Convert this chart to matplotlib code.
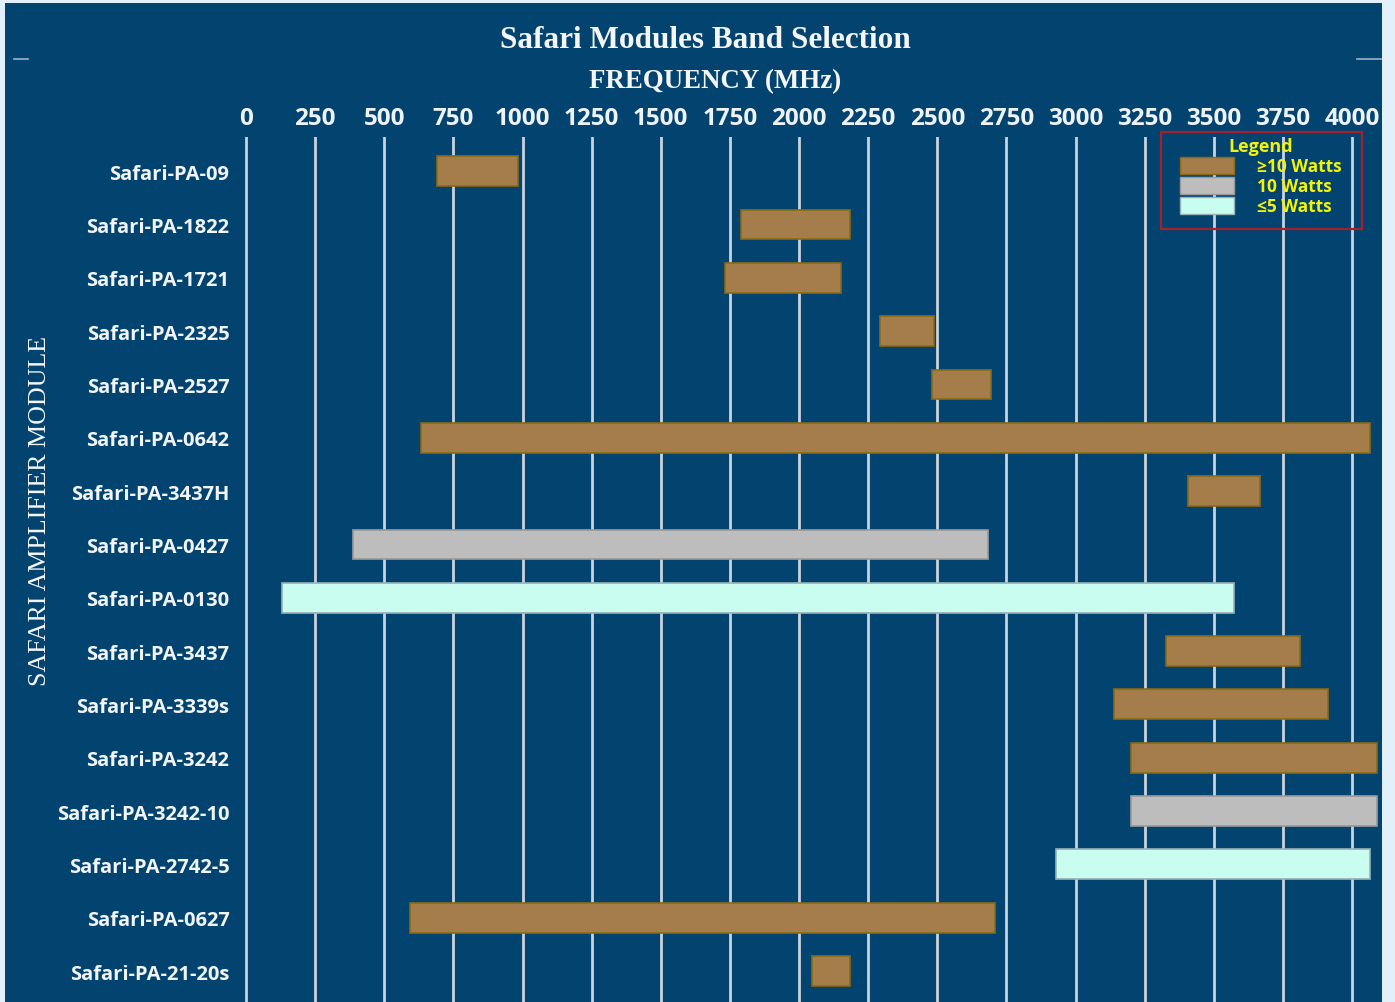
import matplotlib
matplotlib.use("Agg")
import matplotlib.pyplot as plt
from matplotlib.patches import Patch, Rectangle
from matplotlib.lines import Line2D

modules = ["Safari-PA-09", "Safari-PA-1822", "Safari-PA-1721", "Safari-PA-2325",
           "Safari-PA-2527", "Safari-PA-0642", "Safari-PA-3437H", "Safari-PA-0427",
           "Safari-PA-0130", "Safari-PA-3437", "Safari-PA-3339s", "Safari-PA-3242",
           "Safari-PA-3242-10", "Safari-PA-2742-5", "Safari-PA-0627", "Safari-PA-21-20s"]
start_mhz = [690, 1790, 1732, 2293, 2481, 633, 3407, 387, 130, 3327, 3139, 3201, 3201, 2929, 593, 2047]
stop_mhz = [985, 2184, 2152, 2488, 2694, 4065, 3667, 2684, 3573, 3812, 3913, 4090, 4090, 4065, 2709, 2184]
power_class = [0, 0, 0, 0, 0, 0, 0, 1, 2, 0, 0, 0, 1, 2, 0, 0]
class_labels = ["\u226510 Watts", "10 Watts", "\u22645 Watts"]
xticks = list(range(0, 4001, 250))

fill_colors = ["#a47d4a", "#bdbdbd", "#c8fdf0"]
edge_colors = ["#8a6a14", "#9a9a9a", "#9ab0b8"]

DARK = "#03436f"
W, H = 1395, 1003
fig = plt.figure(figsize=(W / 100, H / 100), dpi=100, facecolor="#e2f0fa")
fig.patches.append(Rectangle((5 / W, 0), (1382 - 5) / W, (H - 4) / H,
                             transform=fig.transFigure, facecolor=DARK,
                             edgecolor="none", zorder=-10))

# axes: 0 MHz at x=246 px, 4000 at 1352 px
ppm = (1352 - 246) / 4000.0
x0, x1 = -30, (1382 - 246) / ppm
left_px = 246 + x0 * ppm
top_px, bot_px = 138, 1003
ax = fig.add_axes([left_px / W, 1 - bot_px / H, (1382 - left_px) / W, (bot_px - top_px) / H])
ax.set_zorder(5)
ax.set_facecolor("none")
for s in ax.spines.values():
    s.set_visible(False)

n = len(modules)
ys = list(range(n))
for i in ys:
    c = power_class[i]
    ax.barh(i, stop_mhz[i] - start_mhz[i], left=start_mhz[i], height=0.56,
            color=fill_colors[c], edgecolor=edge_colors[c], linewidth=1.2, zorder=3)

ax.set_xlim(x0, x1)
ax.set_ylim(n - 1 + 0.58, -0.64)
ax.xaxis.tick_top()
ax.set_xticks(xticks)
ax.set_xticklabels([str(t) for t in xticks], fontsize=17.5, fontweight="bold",
                   color="#eef3f8", family=["Open Sans", "DejaVu Sans"])
ax.tick_params(axis="x", length=0, pad=5)
ax.set_yticks(ys)
ax.set_yticklabels(modules, fontsize=14.5, fontweight="bold", color="#f2f5f8",
                   family=["Open Sans", "DejaVu Sans"])
ax.tick_params(axis="y", length=0, pad=6)
ax.grid(axis="x", color="#c9d3dd", linewidth=2, zorder=1)
ax.grid(axis="y", visible=False)

fig.text(705 / W, 1 - 40 / H, "Safari Modules Band Selection", ha="center", va="center",
         fontsize=22.5, fontweight="bold", color="#f4f6f8", family="Liberation Serif")
fig.text(715 / W, 1 - 82 / H, "FREQUENCY (MHz)", ha="center", va="center",
         fontsize=19.4, fontweight="bold", color="#f4f6f8", family="Liberation Serif")
fig.text(40 / W, 1 - 511 / H, "SAFARI AMPLIFIER MODULE", ha="center", va="center",
         rotation=90, fontsize=18.7, color="#f4f6f8", family="Liberation Serif")

# small decorative rule marks
fig.add_artist(Line2D([14 / W, 28 / W], [1 - 60 / H, 1 - 60 / H], color="#9fb3c6", lw=1.2))
fig.add_artist(Line2D([1357 / W, 1381 / W], [1 - 60 / H, 1 - 60 / H], color="#9fb3c6", lw=1.2))

# legend box
fig.add_artist(Rectangle((1161 / W, 1 - 230 / H), (1362 - 1161) / W, (230 - 133) / H,
                         transform=fig.transFigure, facecolor="none",
                         edgecolor="#a3202c", linewidth=1.6, zorder=6))
handles = [Patch(facecolor=fill_colors[k], edgecolor=edge_colors[k], label=class_labels[k])
           for k in range(3)]
leg = ax.legend(handles=handles, title="Legend", loc="upper left",
                bbox_to_anchor=(1177 / W, 1 - 135 / H), bbox_transform=fig.transFigure,
                frameon=False,
                prop={"family": ["Open Sans", "DejaVu Sans"], "weight": "bold", "size": 12.5},
                handlelength=3.1, handleheight=1.1, handletextpad=1.3, labelspacing=0.1,
                borderpad=0.2, borderaxespad=0)
leg.get_title().set_color("#f2f20a")
leg.get_title().set_fontweight("bold")
leg.get_title().set_fontsize(13)
leg.get_title().set_family(["Open Sans", "DejaVu Sans"])
for t in leg.get_texts():
    t.set_color("#f2f20a")
leg.set_zorder(7)

fig.savefig("out.png", dpi=100, facecolor=fig.get_facecolor())
